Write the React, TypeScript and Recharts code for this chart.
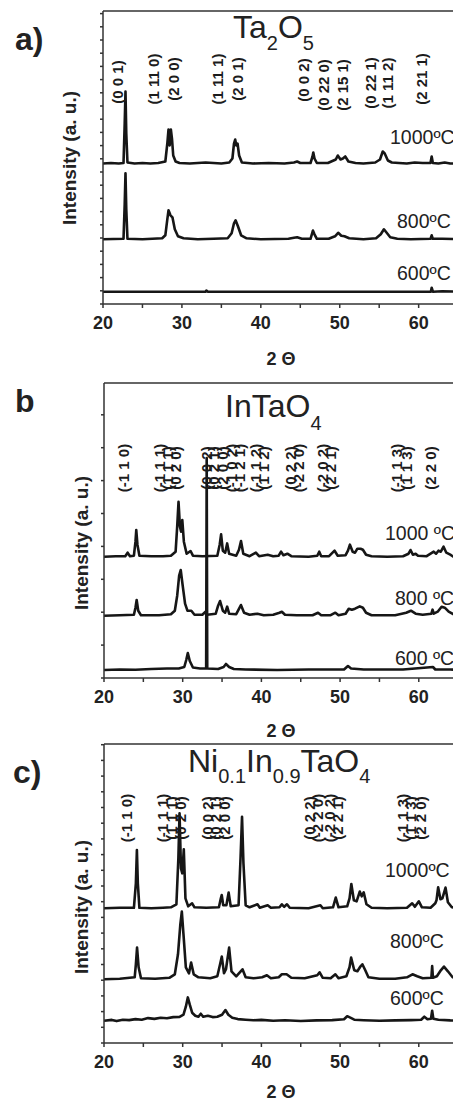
import React from 'react';
import { ComposedChart, Line, Scatter, XAxis, YAxis, ReferenceLine } from 'recharts';

const FONT = 'Liberation Sans, Arial, Helvetica, sans-serif';
const X_TICKS = [20, 25, 30, 35, 40, 45, 50, 55, 60, 65];
const X_LABELED = [20, 30, 40, 50, 60];

// ---------- Panel a: Ta2O5 (intensity above each trace's own baseline) ----------
const TA_1000: number[][] = [[20,0],[21,0.5],[22,0],[22.6,0.5],[22.75,40],[22.85,72],[22.95,30],[23.1,1],[24,0],[25,0.5],[26,0],[27,0.5],[27.9,2],[28.15,20],[28.3,34],[28.45,18],[28.6,34],[28.75,24],[28.9,8],[29.2,2],[29.7,0.5],[31,0],[32,0.5],[33,1],[34,0.5],[35,0],[36,1],[36.4,5],[36.6,20],[36.75,24],[36.9,18],[37.05,20],[37.25,8],[37.6,1],[39,0],[41,0.5],[43,0],[44.2,1],[44.6,2],[45,0.5],[46.3,0.5],[46.55,7],[46.65,11],[46.8,5],[47.1,0.5],[48.5,0.5],[49.5,4],[49.75,8],[50.1,4],[50.4,5],[50.7,7],[51.1,2],[52,0.5],[53,0],[54.5,1],[55.1,4],[55.45,12],[55.7,10],[56.1,3],[56.6,1],[57.5,0.5],[58.5,0],[59.5,1],[60.5,0.5],[61.5,0.5],[61.65,7],[61.8,0.5],[62.5,0],[63.3,1],[64,0],[66,0]];
const TA_800: number[][] = [[20,0],[22.6,0.5],[22.75,35],[22.85,66],[22.95,30],[23.1,0.5],[25,0],[27.5,1],[27.9,4],[28.15,20],[28.3,29],[28.55,24],[28.8,22],[29.1,10],[29.5,3],[30.2,1],[32,0],[34,0.5],[35.8,1],[36.3,6],[36.6,16],[36.8,19],[37.1,13],[37.5,4],[38.2,1],[40,0],[43.5,0.5],[44.2,1.5],[44.6,2],[45.2,0.5],[46.3,0.5],[46.6,8.7],[46.8,5],[47.1,0.5],[48.6,0.5],[49.4,3],[49.8,6.5],[50.2,3.5],[50.6,3],[51.2,1],[53,0],[54.6,1],[55.2,5],[55.6,10],[55.9,7],[56.4,2],[57.3,0.5],[59,0],[61.5,0.5],[61.65,4],[61.8,0.5],[63,0.5],[66,0]];
const TA_600: number[][] = [[20,0],[33,0],[33.1,1.2],[33.3,0],[45,0],[61.55,0],[61.65,4],[61.8,0],[63,0.5],[66,0]];
const TA_OFFSETS = [140.5, 64.7, 12.3];
const TA_LABELS: [number, number, string][] = [
  [21.81, 222, '(0 0 1)'], [26.37, 225, '(1 11 0)'], [28.9, 225, '(2 0 0)'],
  [34.47, 225, '(1 11 1)'], [37.0, 225, '(2 0 1)'], [45.35, 224, '(0 0 2)'],
  [47.89, 219, '(0 22 0)'], [50.29, 219, '(2 15 1)'], [53.84, 221, '(0 22 1)'],
  [56.11, 221, '(1 11 2)'], [60.42, 225, '(2 21 1)'],
];

// ---------- Panel b: InTaO4 ----------
const IT_1000: number[][] = [[20,0],[21.5,0.5],[22.7,0.5],[23.0,4],[23.3,0.5],[23.8,1],[24.0,15],[24.1,26.7],[24.25,12],[24.5,1],[26,0.5],[27.5,0.5],[28.5,1],[29.1,5],[29.3,30],[29.47,55],[29.65,30],[29.8,25],[29.95,36.7],[30.15,15],[30.5,3],[31.0,5.7],[31.3,1],[32.5,0.5],[34.4,1],[34.7,12],[34.88,22.3],[35.1,6],[35.4,4],[35.65,13.3],[35.9,3],[36.8,1],[37.15,7],[37.41,15.7],[37.7,3],[38.5,0.5],[39.3,4],[39.7,0.5],[40.8,2],[41.5,0.5],[42.2,1],[42.5,5],[42.8,1.5],[43.3,3],[43.8,0.5],[46,0],[47.1,1],[47.35,5],[47.6,0.5],[48.6,0.5],[49.3,6],[49.7,1],[50.7,1.5],[51.0,6],[51.25,12],[51.6,5],[51.9,4],[52.2,8],[52.6,8],[52.9,7],[53.3,2],[54,0.5],[56,0],[58,0.5],[58.7,3],[58.95,6.7],[59.25,2],[59.6,3],[59.9,1],[61,0.5],[61.7,4],[61.9,5],[62.2,3],[62.5,6],[62.8,5],[63.15,10],[63.5,4],[64,2],[64.4,0],[66,0]];
const IT_800: number[][] = [[20,0],[22,0.5],[23.8,1],[24.0,8],[24.15,15.7],[24.35,5],[24.7,0.5],[27,0.5],[28.5,1.5],[29.0,5],[29.3,20],[29.55,40],[29.75,45.7],[30.0,30],[30.3,12],[30.6,5],[31.1,5],[31.5,1],[32.5,1],[32.9,4],[33.1,1],[34.2,2],[34.5,10],[34.75,14.7],[35.1,5],[35.4,3],[35.65,9],[35.9,2],[36.8,1.5],[37.1,6],[37.4,10.7],[37.8,3],[38.5,1],[39.5,2],[40.3,0.5],[41.5,1],[42.3,3],[42.6,4],[43,1],[44.5,0.5],[46.5,0.5],[47.2,3],[47.6,0.5],[48.8,0.5],[49.4,3],[49.8,0.5],[50.7,2],[51.1,7],[51.5,6],[51.9,7],[52.5,9.3],[52.9,8],[53.3,3],[54,0.5],[57,0.5],[58.4,3],[59.0,5],[59.6,2],[60.5,1],[61.6,2],[61.75,6],[61.9,2],[62.4,4],[62.9,9],[63.3,8],[63.8,4],[64.5,1],[66,0]];
const IT_600: number[][] = [[20,0],[22,0.5],[24,0.3],[26,1],[28,1.5],[29.5,1.5],[30.2,3],[30.45,10],[30.65,17],[30.9,9],[31.3,2.5],[32.2,1.5],[32.98,1.5],[33.05,212],[33.12,1.5],[34.5,1],[35.2,3],[35.5,6],[35.9,3],[36.5,1],[38,0.5],[42,0],[46,0.5],[50.5,0.5],[51.0,4],[51.4,1.5],[53,0.5],[58,0.5],[61.8,3],[62.1,0.5],[64,0.5],[66,0]];
const IT_OFFSETS = [121.3, 62.3, 8];
const IT_LABELS: [number, number, string][] = [
  [22.53, 210, '(-1 1 0)'], [27.06, 210, '(-1 1 1)'], [28.04, 210, '(1 1 1)'], [29.09, 210, '(0 2 0)'],
  [32.98, 210, '(0 0 2)'], [33.9, 210, '(0 2 1)'], [35.01, 210, '(2 0 0)'], [36.15, 210, '(-1 0 2)'],
  [37.2, 210, '(-1 2 1)'], [39.23, 210, '(-1 1 2)'], [40.24, 210, '(1 1 2)'], [43.75, 210, '(0 2 2)'],
  [44.71, 210, '(-2 2 0)'], [47.76, 210, '(-2 0 2)'], [48.82, 210, '(2 2 1)'], [57.22, 210, '(-1 1 3)'],
  [58.49, 210, '(1 1 3)'], [61.53, 210, '(2 2 0)'],
];

// ---------- Panel c: Ni0.1In0.9TaO4 ----------
const NI_1000: number[][] = [[20,0],[22,0.5],[23.8,0.5],[24.05,25],[24.18,58.3],[24.3,25],[24.5,0.5],[26,0],[27.5,0.5],[28.5,1],[29.2,4],[29.45,50],[29.6,95],[29.78,40],[29.95,35],[30.14,59],[30.35,10],[30.7,2],[31.2,5],[31.5,1],[33,0.5],[34.6,1],[34.85,10],[34.96,13.3],[35.15,3],[35.55,3],[35.84,15.7],[36.1,2],[37.1,3],[37.35,50],[37.54,91.6],[37.72,45],[38,3],[38.5,1],[39.5,4],[39.8,0.5],[40.8,3],[41.2,0.5],[42.3,1],[42.6,4],[42.9,1.5],[43.25,4],[43.6,0.5],[46,0],[47.5,3],[47.8,0],[49.1,1],[49.45,10.7],[49.8,1],[50.9,2],[51.2,10],[51.43,24.3],[51.75,8],[52.1,7],[52.5,16.7],[52.75,12],[53.0,16],[53.35,4],[54,0.5],[56,0],[58.5,0.5],[59.16,5],[59.5,1.5],[60.01,7],[60.4,1],[61.5,0.5],[62.1,5],[62.25,8],[62.46,21],[62.75,9],[63.0,10],[63.4,20.7],[63.7,6],[64.2,1],[66,0]];
const NI_800: number[][] = [[20,0],[22,0.5],[23.9,2],[24.05,15],[24.2,31.7],[24.4,12],[24.7,1],[26.5,0.5],[28.3,1.5],[29.0,5],[29.4,25],[29.7,55],[29.89,67.7],[30.1,45],[30.4,12],[30.8,6],[31.07,16.7],[31.4,5],[32,2],[33.5,1],[34.4,3],[34.75,15],[34.97,22.7],[35.25,6],[35.5,10],[35.9,31.7],[36.2,8],[36.8,3],[37.6,10],[38,2],[39,1],[40.1,2],[40.7,4],[41.2,1],[42.2,2],[42.6,5],[43.2,5],[43.8,1.5],[45.5,1],[47.1,4],[47.4,7],[47.8,1.5],[48.8,1],[49.4,5],[49.8,1],[50.8,3],[51.2,12],[51.4,21.7],[51.8,9],[52.2,8],[52.6,13],[52.83,15],[53.2,9],[53.6,2],[55,0.5],[57,0.5],[58.5,2],[59.2,5],[59.8,3],[60.5,1],[61.6,1.5],[61.7,13.3],[61.8,1.5],[62.3,3],[62.8,9],[63.2,12.7],[63.7,8],[64.3,2],[66,0]];
const NI_600: number[][] = [[20,0],[21,0.8],[21.6,-0.4],[22.4,1],[23.2,0.6],[24,1.6],[24.8,1],[25.6,2.6],[26.4,1.8],[27.2,3],[28,2.4],[28.8,3.6],[29.6,3.8],[30.1,6],[30.4,14],[30.65,23.3],[30.9,16],[31.2,8],[31.6,5],[32,4],[32.3,7],[32.6,4],[33.2,5],[33.8,3.6],[34.4,4],[35.0,6],[35.43,10.7],[35.8,6],[36.3,3],[37,1.6],[38,1],[39,0.4],[40,0.8],[41.5,0],[43,0.5],[45,-0.3],[47,0.3],[49,0.6],[50.5,1.5],[50.9,4.5],[51.3,3],[51.8,1],[53,0.5],[55,0],[57,0.3],[59,0.6],[60.3,1],[60.7,4],[61.1,1.5],[61.55,2],[61.7,10],[61.85,2],[62.5,1],[64,0.3],[66,0]];
const NI_OFFSETS = [134.7, 63.7, 22.3];
const NI_LABELS: [number, number, string][] = [
  [22.84, 225, '(-1 1 0)'], [27.48, 225, '(-1 1 1)'], [28.54, 225, '(1 1 1)'], [29.68, 225, '(0 2 0)'],
  [33.18, 225, '(0 0 2)'], [34.16, 225, '(0 2 1)'], [35.3, 225, '(2 0 0)'], [46.07, 225, '(0 2 2)'],
  [47.12, 225, '(-2 2 0)'], [48.61, 225, '(-2 0 2)'], [49.66, 225, '(2 2 1)'], [57.9, 225, '(-1 1 3)'],
  [58.96, 225, '(1 1 3)'], [60.23, 225, '(2 2 0)'],
];

type PanelProps = {
  top: number;
  marginTop: number;
  plotLeft: number;
  plotH: number;
  tickStep: number;
  traces: number[][][];
  offsets: number[];
  labels: [number, number, string][];
};

const LabelShape = (props: any) => {
  const { cx, cy, payload } = props;
  if (cx == null || cy == null) return <g />;
  return (
    <text
      x={cx}
      y={cy}
      transform={`rotate(-90, ${cx}, ${cy})`}
      textAnchor="middle"
      dominantBaseline="central"
      fontFamily={FONT}
      fontSize={15}
      fontWeight="bold"
      fill="#1c1c1c"
    >
      {payload.t}
    </text>
  );
};

function Panel({ top, marginTop, plotLeft, plotH, tickStep, traces, offsets, labels }: PanelProps) {
  const W = 471;
  const H = marginTop + plotH + 40;
  const yTicks: number[] = [];
  for (let v = 0; v <= plotH + 0.01; v += tickStep) yTicks.push(v);
  const labelData = labels.map(([x, y, t]) => ({ x, y, t }));
  return (
    <div style={{ position: 'absolute', left: 0, top, width: W, height: H }}>
      <ComposedChart width={W} height={H} margin={{ top: marginTop, right: 5, bottom: 0, left: plotLeft - 10 }}>
        <XAxis
          type="number"
          dataKey="x"
          domain={[20, 66]}
          ticks={X_TICKS}
          allowDataOverflow
          tickFormatter={(v: number) => (X_LABELED.includes(v) ? String(v) : '')}
          tickSize={4}
          tickMargin={8}
          height={40}
          stroke="#333"
          strokeWidth={1.5}
          tick={{ fontSize: 18, fontWeight: 'bold', fill: '#222', fontFamily: FONT }}
        />
        <YAxis
          type="number"
          dataKey="y"
          domain={[0, plotH]}
          ticks={yTicks}
          allowDataOverflow
          tickFormatter={() => ''}
          tickSize={3}
          width={10}
          stroke="#333"
          strokeWidth={1.5}
        />
        <ReferenceLine y={plotH} stroke="#333" strokeWidth={1.5} />
        {traces.map((tr, i) => (
          <Line
            key={i}
            data={tr.map(([x, y]) => ({ x, y: y + offsets[i] }))}
            dataKey="y"
            type="linear"
            dot={false}
            stroke="#161616"
            strokeWidth={2.6}
            strokeLinejoin="round"
            isAnimationActive={false}
          />
        ))}
        <Scatter data={labelData} dataKey="y" shape={LabelShape} isAnimationActive={false} />
      </ComposedChart>
    </div>
  );
}

const txt = { fontFamily: FONT, fill: '#222' } as const;

export default function App() {
  return (
    <div style={{ position: 'absolute', left: 0, top: 0, width: 453, height: 1103, overflow: 'hidden', background: '#fff' }}>
      <Panel top={0} marginTop={11} plotLeft={103} plotH={293} tickStep={13.2}
        traces={[TA_1000, TA_800, TA_600]} offsets={TA_OFFSETS} labels={TA_LABELS} />
      <Panel top={360} marginTop={23} plotLeft={104} plotH={295} tickStep={32.9}
        traces={[IT_1000, IT_800, IT_600]} offsets={IT_OFFSETS} labels={IT_LABELS} />
      <Panel top={720} marginTop={24} plotLeft={104} plotH={299} tickStep={15.7}
        traces={[NI_1000, NI_800, NI_600]} offsets={NI_OFFSETS} labels={NI_LABELS} />
      <svg width={453} height={1103} style={{ position: 'absolute', left: 0, top: 0, pointerEvents: 'none' }}>
        {/* panel letters */}
        <text x={15} y={50} fontSize={32} fontWeight="bold" {...txt}>a)</text>
        <text x={15} y={412} fontSize={32} fontWeight="bold" {...txt}>b</text>
        <text x={13} y={783} fontSize={32} fontWeight="bold" {...txt}>c)</text>
        {/* titles */}
        <text x={233} y={38} fontSize={32} {...txt}>
          Ta<tspan fontSize={20} dy={12}>2</tspan><tspan fontSize={32} dy={-12}>O</tspan><tspan fontSize={20} dy={12}>5</tspan>
        </text>
        <text x={225} y={417} fontSize={32} {...txt}>
          InTaO<tspan fontSize={20} dy={13}>4</tspan>
        </text>
        <text x={188} y={772} fontSize={32} {...txt}>
          Ni<tspan fontSize={20} dy={11}>0.1</tspan><tspan fontSize={32} dy={-11}>In</tspan><tspan fontSize={20} dy={11}>0.9</tspan><tspan fontSize={32} dy={-11}>TaO</tspan><tspan fontSize={20} dy={11}>4</tspan>
        </text>
        {/* y axis labels */}
        {[[69, 158], [81, 543], [81, 907]].map(([x, y], i) => (
          <text key={i} x={x} y={y} transform={`rotate(-90, ${x}, ${y})`} textAnchor="middle" dominantBaseline="central"
            fontSize={19} fontWeight="bold" {...txt}>Intensity (a. u.)</text>
        ))}
        {/* x axis labels */}
        {[365, 737, 1098].map((y, i) => (
          <text key={i} x={281} y={y} textAnchor="middle" fontSize={18} fontWeight="bold" {...txt}>2 Θ</text>
        ))}
        {/* temperature labels */}
        <text x={390} y={144} fontSize={19.5} {...txt}>1000ºC</text>
        <text x={397} y={228} fontSize={19.5} {...txt}>800ºC</text>
        <text x={397} y={280} fontSize={19.5} {...txt}>600ºC</text>
        <text x={385} y={540} fontSize={19.5} {...txt}>1000 ºC</text>
        <text x={395} y={605} fontSize={19.5} {...txt}>800 ºC</text>
        <text x={395} y={665} fontSize={19.5} {...txt}>600 ºC</text>
        <text x={385} y={877} fontSize={19.5} {...txt}>1000ºC</text>
        <text x={390} y={948} fontSize={19.5} {...txt}>800ºC</text>
        <text x={390} y={1005} fontSize={19.5} {...txt}>600ºC</text>
      </svg>
    </div>
  );
}
